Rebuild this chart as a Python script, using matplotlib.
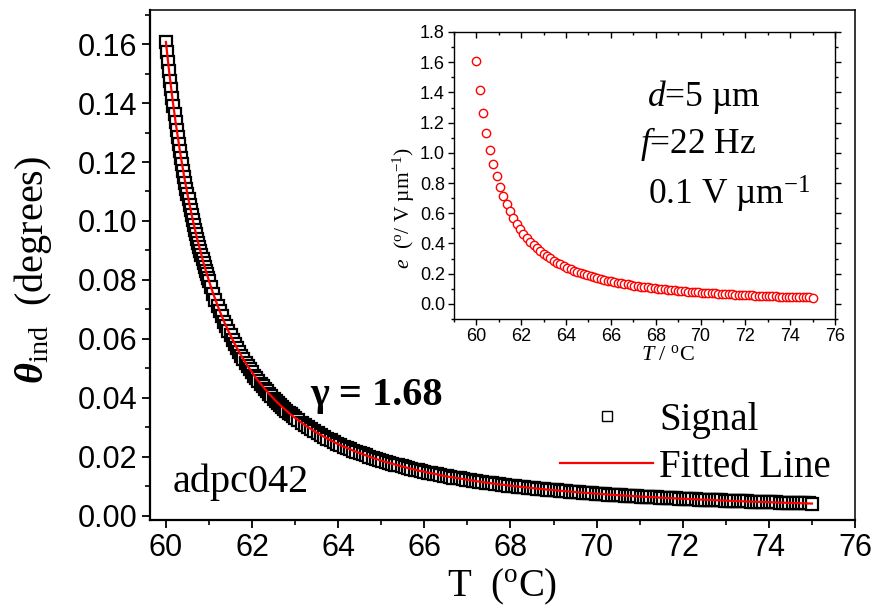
import numpy as np
import matplotlib
matplotlib.use('Agg')
import matplotlib.pyplot as plt
from matplotlib.ticker import MultipleLocator, FormatStrFormatter

plt.rcParams['font.family'] = 'Liberation Sans'
plt.rcParams['mathtext.fontset'] = 'custom'
plt.rcParams['mathtext.rm'] = 'Liberation Serif'
plt.rcParams['mathtext.it'] = 'Liberation Serif:italic'
plt.rcParams['mathtext.bf'] = 'Liberation Serif:bold'
plt.rcParams['mathtext.bfit'] = 'Liberation Serif:italic:bold'

SERIF = 'Liberation Serif'

# Temperatur-Raster (degC), dichter im steilen Bereich
T_a = np.round(np.arange(60.0, 61.0001, 0.025), 3)
T_b = np.round(np.arange(61.05, 63.0001, 0.05), 2)
T_c = np.round(np.arange(63.15, 75.0001, 0.15), 2)
T_d = np.round(np.arange(63.075, 74.93, 0.15), 3)

# theta_ind (degrees)
theta_a = [0.1607, 0.1573, 0.1539, 0.1507, 0.1476, 0.1446, 0.1417, 0.1389, 0.1362, 0.1335,
           0.1310, 0.1285, 0.1261, 0.1237, 0.1215, 0.1192, 0.1171, 0.1150, 0.1130, 0.1110,
           0.1091, 0.1073, 0.1055, 0.1037, 0.1020, 0.1003, 0.0987, 0.0971, 0.0955, 0.0940,
           0.0926, 0.0911, 0.0897, 0.0884, 0.0870, 0.0857, 0.0845, 0.0832, 0.0820, 0.0808,
           0.0797]
theta_b = [0.0775, 0.0753, 0.0733, 0.0713, 0.0694, 0.0677, 0.0659, 0.0643, 0.0627, 0.0612,
           0.0597, 0.0583, 0.0569, 0.0556, 0.0543, 0.0531, 0.0519, 0.0508, 0.0497, 0.0487,
           0.0476, 0.0466, 0.0457, 0.0448, 0.0439, 0.0430, 0.0422, 0.0413, 0.0406, 0.0398,
           0.0390, 0.0383, 0.0376, 0.0369, 0.0363, 0.0356, 0.0350, 0.0344, 0.0338, 0.0332]
theta_c = [0.0316, 0.0301, 0.0287, 0.0274, 0.0262, 0.0251, 0.0240, 0.0231, 0.0221, 0.0213,
           0.0205, 0.0197, 0.0190, 0.0183, 0.0177, 0.0171, 0.0165, 0.0160, 0.0154, 0.0150,
           0.0145, 0.0141, 0.0136, 0.0132, 0.0129, 0.0125, 0.0121, 0.0118, 0.0115, 0.0112,
           0.0109, 0.0106, 0.0103, 0.0101, 0.00983, 0.00960, 0.00937, 0.00914, 0.00893, 0.00873,
           0.00853, 0.00834, 0.00816, 0.00798, 0.00781, 0.00764, 0.00748, 0.00733, 0.00718, 0.00703,
           0.00689, 0.00676, 0.00662, 0.00650, 0.00637, 0.00625, 0.00614, 0.00602, 0.00591, 0.00581,
           0.00570, 0.00560, 0.00550, 0.00541, 0.00532, 0.00523, 0.00514, 0.00505, 0.00497, 0.00489,
           0.00481, 0.00473, 0.00466, 0.00459, 0.00452, 0.00445, 0.00438, 0.00431, 0.00425, 0.00418]
theta_d = [0.0324, 0.0308, 0.0294, 0.0280, 0.0268, 0.0256, 0.0245, 0.0235, 0.0226, 0.0217,
           0.0209, 0.0201, 0.0193, 0.0186, 0.0180, 0.0174, 0.0168, 0.0162, 0.0157, 0.0152,
           0.0147, 0.0143, 0.0138, 0.0134, 0.0130, 0.0127, 0.0123, 0.0120, 0.0116, 0.0113,
           0.0110, 0.0107, 0.0105, 0.0102, 0.00995, 0.00971, 0.00948, 0.00925, 0.00903, 0.00883,
           0.00863, 0.00843, 0.00825, 0.00807, 0.00789, 0.00772, 0.00756, 0.00740, 0.00725, 0.00710,
           0.00696, 0.00682, 0.00669, 0.00656, 0.00643, 0.00631, 0.00619, 0.00608, 0.00596, 0.00586,
           0.00575, 0.00565, 0.00555, 0.00545, 0.00536, 0.00527, 0.00518, 0.00509, 0.00501, 0.00493,
           0.00485, 0.00477, 0.00469, 0.00462, 0.00455, 0.00448, 0.00441, 0.00434, 0.00428, 0.00421]

T_sig = np.concatenate([T_a, T_b, T_c, T_d])
theta_sig = np.array(theta_a + theta_b + theta_c + theta_d)
order = np.argsort(T_sig)
T_sig, theta_sig = T_sig[order], theta_sig[order]
theta_fit = theta_sig  # Fitkurve liegt auf der Messkurve

# Inset: e = theta / E bei E = 0.1 V/um, jeder 0.15-K-Punkt
FIELD = 0.1
T_ins = np.concatenate([T_a[::6], T_b[::3], T_c])
e_ins = np.concatenate([np.array(theta_a)[::6], np.array(theta_b)[::3], np.array(theta_c)]) / FIELD

fig = plt.figure(figsize=(8.77, 6.11), dpi=100)
ax = fig.add_axes([0.1710, 0.1489, 0.8039, 0.8355])

ax.plot(T_sig, theta_sig, ls='none', marker='s', ms=8.4, mfc='white',
        mec='black', mew=1.6, label='Signal')
ax.plot(T_sig, theta_fit, color='red', lw=1.6, label='Fitted Line')

ax.set_xlim(59.63, 76)
ax.set_ylim(-0.0014, 0.1717)
ax.set_xticks(np.arange(60, 77, 2))
ax.set_yticks(np.arange(0, 0.161, 0.02))
ax.xaxis.set_minor_locator(MultipleLocator(1))
ax.yaxis.set_minor_locator(MultipleLocator(0.01))
ax.yaxis.set_major_formatter(FormatStrFormatter('%.2f'))
ax.tick_params(which='major', direction='out', length=6, width=1.3, labelsize=22, pad=3)
ax.tick_params(which='minor', direction='out', length=3.5, width=1.2)
for s in ['left', 'bottom']:
    ax.spines[s].set_linewidth(1.6)
for s in ['top', 'right']:
    ax.spines[s].set_linewidth(1.1)

fig.text(502 / 877, 1 - 596 / 611, 'T  ($^{\\rm o}$C)', family=SERIF, fontsize=28,
         ha='center', va='baseline')
fig.text(33 / 877, 1 - 270 / 611, '$\\mathbfit{θ}_{\\rm ind}$  (degrees)', family=SERIF,
         fontsize=29, rotation=90, ha='center', va='center')

ax.text(63.35, 0.0376, 'γ = 1.68', family=SERIF, fontweight='bold', fontsize=29)
ax.text(60.16, 0.0081, 'adpc042', family=SERIF, fontsize=29)

leg = ax.legend(loc='upper left', bbox_to_anchor=(560 / 877, 1 - 402 / 611),
                bbox_transform=fig.transFigure, frameon=False, borderpad=0,
                borderaxespad=0, handlelength=2.4, handletextpad=0.15,
                labelspacing=0.25, markerscale=0.85, prop={'family': SERIF, 'size': 28})
leg.legend_handles[0].set_markeredgewidth(1.0)

# Inset
ins = fig.add_axes([454 / 877, 1 - 319 / 611, 381 / 877, 287 / 611])
ins.plot(T_ins, e_ins, ls='none', marker='o', ms=6.0, mfc='white', mec='red', mew=1.0)
ins.set_xlim(59, 76)
ins.set_ylim(-0.1, 1.8)
ins.set_xticks(np.arange(60, 77, 2))
ins.set_yticks(np.arange(0, 1.81, 0.2))
ins.xaxis.set_minor_locator(MultipleLocator(1))
ins.yaxis.set_minor_locator(MultipleLocator(0.1))
ins.yaxis.set_major_formatter(FormatStrFormatter('%.1f'))
ins.tick_params(which='both', direction='out', labelsize=13, pad=2, width=1.0)
ins.tick_params(which='major', length=4.5)
ins.tick_params(which='minor', length=2.5)
ins.tick_params(which='both', top=True, right=True, labeltop=False, labelright=False)
for t in ins.xaxis.get_ticklines(minor=False)[1::2] + ins.xaxis.get_ticklines(minor=True)[1::2]:
    t.set_marker(3)
for t in ins.yaxis.get_ticklines(minor=False)[1::2] + ins.yaxis.get_ticklines(minor=True)[1::2]:
    t.set_marker(1)
for s in ins.spines.values():
    s.set_linewidth(1.0)

fig.text(404 / 877, 1 - 208 / 611, '$e$  ($^{\\rm o}$/ V µm$^{-1}$)', family=SERIF,
         fontsize=15.5, rotation=90, ha='center', va='center')
fig.text(668 / 877, 1 - 360 / 611, '$T$ / $^{\\rm o}$C', family=SERIF, fontsize=16,
         ha='center', va='baseline')

for txt, x, y in [('$d$=5 µm', 647, 106), ('$f$=22 Hz', 640, 153), ('0.1 V µm$^{-1}$', 648, 205)]:
    fig.text(x / 877, 1 - y / 611, txt, family=SERIF, fontsize=25.5, va='baseline')

fig.savefig('out.png', dpi=100)
